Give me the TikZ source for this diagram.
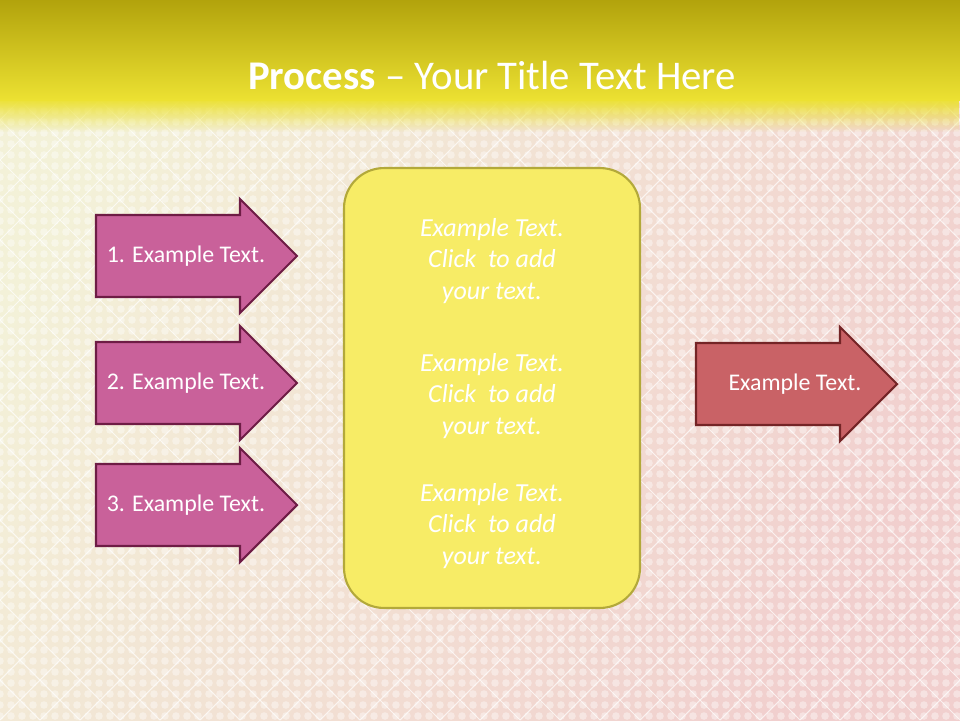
\documentclass[tikz,border=0pt]{standalone}
\usepackage{fontspec}
\setmainfont{Carlito}
\usetikzlibrary{fadings}
\definecolor{bgcream}{HTML}{F3F1D8}
\definecolor{bgpink}{HTML}{F1CFCE}
\definecolor{titletop}{HTML}{B2A30C}
\definecolor{titlebot}{HTML}{ECE132}
\definecolor{stepfill}{HTML}{C9619A}
\definecolor{stepedge}{HTML}{6E1C45}
\definecolor{outfill}{HTML}{C96266}
\definecolor{outedge}{HTML}{742426}
\definecolor{boxfill}{HTML}{F7EC66}
\definecolor{boxedge}{HTML}{B3A93A}
\tikzstyle{steparrow} = [fill=stepfill, draw=stepedge, line width=1.2pt]
\tikzstyle{outarrow} = [fill=outfill, draw=outedge, line width=1.2pt]
\tikzstyle{arrowtext} = [text=white, font=\fontsize{13.6}{16}\selectfont]
\tikzstyle{paneltext} = [text=white, align=center, font=\fontsize{14.8}{18.1}\selectfont\itshape]
\tikzstyle{panelbox} = [draw=boxedge, fill=boxfill, line width=1.2pt, rounded corners=0.8cm,
    minimum width=5.92cm, minimum height=8.8cm]
\newcommand{\procarrow}[6]{
    \draw[#6] (#2,#3-41) -- ++(144,0) -- ++(0,-16) -- (#2+201,#3) -- (#2+144,#3+57) -- ++(0,-16) -- (#2,#3+41) -- cycle;
    \node(#1) [arrowtext] at (#4,#3) {#5};
}
\newcommand{\paneltext}[2]{
    \node(#1) [paneltext] at (492,#2) {Example Text.\\Click\ \ to add\\your text.};
}

\begin{document}
\begin{tikzpicture}[x=0.02cm,y=-0.02cm]
	\useasboundingbox (0,0) rectangle (960,720);
	% background
	\fill[bgcream] (0,0) rectangle (960,720);
	\shade[left color=bgcream, right color=bgpink, shading angle=60] (0,0) rectangle (960,720);
	\begin{scope}
		\clip (0,100) rectangle (960,720);
		\foreach \j in {100,111,...,720}{
			\fill[white, opacity=0.4] \foreach \i in {0,11,...,960}{(\i,\j) circle (3.8)};
		}
		\foreach \k in {-720,-680,...,960}{
			\draw[white, opacity=0.7, line width=0.6pt] (\k,720) -- (\k+720,0);
			\draw[white, opacity=0.7, line width=0.6pt] (\k,0) -- (\k+720,720);
		}
	\end{scope}
	% title band
	\shade[top color=titletop, bottom color=titlebot] (0,0) rectangle (960,100);
	\fill[titlebot, path fading=south] (0,99) rectangle (960,132);
	\node(title) [text=white, font=\fontsize{23.2}{28}\selectfont] at (492,75) {\textbf{Process} -- Your Title Text Here};
	
	% input arrows
	\procarrow{step1}{96}{256}{186}{1. Example Text.}{steparrow}
	\procarrow{step2}{96}{383}{186}{2. Example Text.}{steparrow}
	\procarrow{step3}{96}{505}{186}{3. Example Text.}{steparrow}
	
	% middle panel
	\node(panel) [panelbox] at (492,388) {};
	\paneltext{note1}{261}
	\paneltext{note2}{396}
	\paneltext{note3}{526}
	
	% output arrow
	\procarrow{result}{696}{384}{795}{Example Text.}{outarrow}
\end{tikzpicture}
\end{document}
